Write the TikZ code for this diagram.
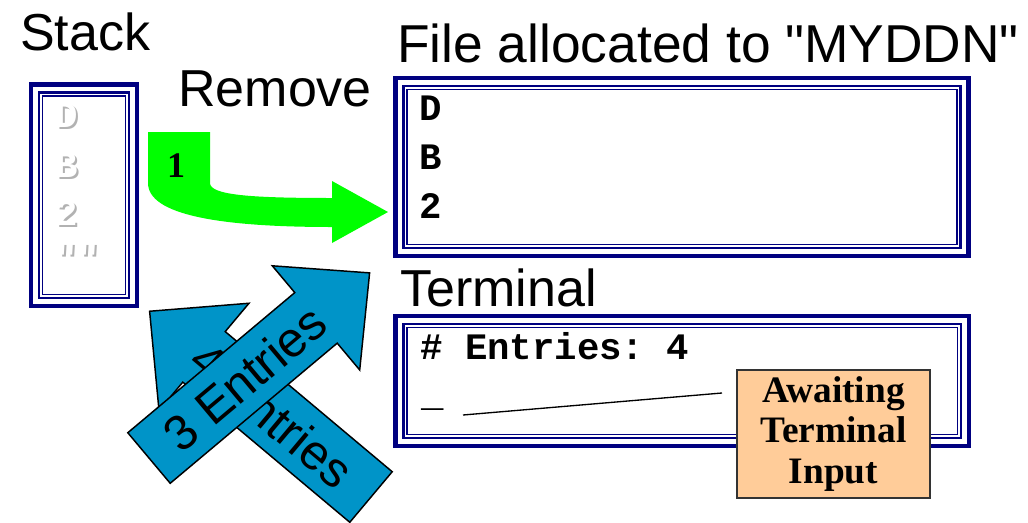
\documentclass[tikz,border=0pt]{standalone}
\usepackage{fontspec}
\setmainfont{Liberation Serif}
\setmonofont{Liberation Mono}
\newfontfamily\labelfont{Liberation Sans}
\usetikzlibrary{positioning}

\definecolor{framenavy}{RGB}{0,0,128}
\definecolor{movegreen}{RGB}{0,255,0}
\definecolor{entryblue}{RGB}{0,148,200}
\definecolor{notepeach}{RGB}{255,204,153}

\begin{document}
\begin{tikzpicture}[x=0.75pt, y=-0.75pt,
    title/.style={font=\labelfont\fontsize{39}{41}\selectfont, anchor=base west, inner sep=0},
    box/.style={draw=framenavy, line width=3.4pt, inner sep=0, outer sep=0},
    midline/.style={draw=framenavy, line width=1.7pt},
    inline/.style={draw=framenavy, line width=1.2pt},
    code/.style={font=\ttfamily\bfseries\fontsize{28}{30}\selectfont, anchor=base west, inner sep=0},
    bigarrow/.style={fill=entryblue, draw=black, line width=1.1pt},
    arrowtext/.style={font=\labelfont\fontsize{37}{40}\selectfont, inner sep=0},
    note/.style={fill=notepeach, draw=black!80, line width=0.9pt, align=center,
      font=\bfseries\fontsize{28}{30.5}\selectfont, inner sep=0}]
		\useasboundingbox (0,0) rectangle (1028,522);

		% Titles
		\node[title] (stacktitle) at (20,50) {Stack};
		\node[title] (removetitle) at (178,106) {Remove};
		\node[title, font=\labelfont\fontsize{40}{42}\selectfont] (filetitle) at (397,62) {File allocated to "MYDDN"};
		\node[title] (termtitle) at (400,306) {Terminal};

		% Framed boxes
		\node[box, minimum width=79.6pt, minimum height=166.1pt] (stack) at (83.9,195.3) {};
		\node[box, minimum width=429.8pt, minimum height=133.5pt] (file) at (682,167) {};
		\node[box, minimum width=430.1pt, minimum height=97.5pt] (term) at (682.3,381) {};
		\foreach \b in {stack, file, term} {
			\draw[midline] ([shift={(8,8)}]\b.north west) rectangle ([shift={(-8,-8)}]\b.south east);
			\draw[inline] ([shift={(11.5,11.5)}]\b.north west) rectangle ([shift={(-11.5,-11.5)}]\b.south east);
		}

		% Stack entries (embossed)
		\foreach \t/\y [count=\i] in {D/127, B/177, 2/225, {""}/270} {
			\node[code, text=black!30] (shade\i) at (57,\y+2) {\t};
			\node[code, text=white] (entry\i) at (55,\y) {\t};
		}

		% File records
		\node[code] (rec1) at (419,120) {D};
		\node[code] (rec2) at (419,169) {B};
		\node[code] (rec3) at (419,218) {2};

		% Terminal lines
		\node[code] (count) at (420,359) {\# Entries: 4};
		\node[code] (cursor) at (421,406) {\_};

		% Remove arrow
		\fill[movegreen] (148,132) -- (210,132) -- (210,183)
			.. controls (210,195) and (250,198) .. (332,198) -- (332,181) -- (388,212)
			-- (332,243) -- (332,227) .. controls (220,227) and (148,215) .. (148,183) -- cycle;
		\node[font=\bfseries\fontsize{27}{30}\selectfont, inner sep=0] (step1) at (176,166) {1};

		% Entry count arrows
		\begin{scope}[shift={(371,497)}, rotate=140]
			\draw[bigarrow] (0,-33) -- (218,-33) -- (218,-70) -- (289,0) -- (218,70) -- (218,33) -- (0,33) -- cycle;
		\end{scope}
		\node[arrowtext, rotate=-40] (four) at (272,415) {4 Entries};
		\begin{scope}[shift={(149,458)}, rotate=40]
			\draw[bigarrow] (0,-33) -- (218,-33) -- (218,-68) -- (288,0) -- (218,68) -- (218,33) -- (0,33) -- cycle;
		\end{scope}
		\node[arrowtext, rotate=40] (three) at (245,378) {3 Entries};

		% Awaiting note
		\coordinate (cursortail) at (463,415);
		\coordinate (notetip) at (722,393);
		\draw[line width=1pt] (cursortail) -- (notetip);
		\node[note, minimum width=144.8pt, minimum height=96pt] (await) at (833.5,434) {Awaiting\\Terminal\\Input};
	\end{tikzpicture}
\end{document}
